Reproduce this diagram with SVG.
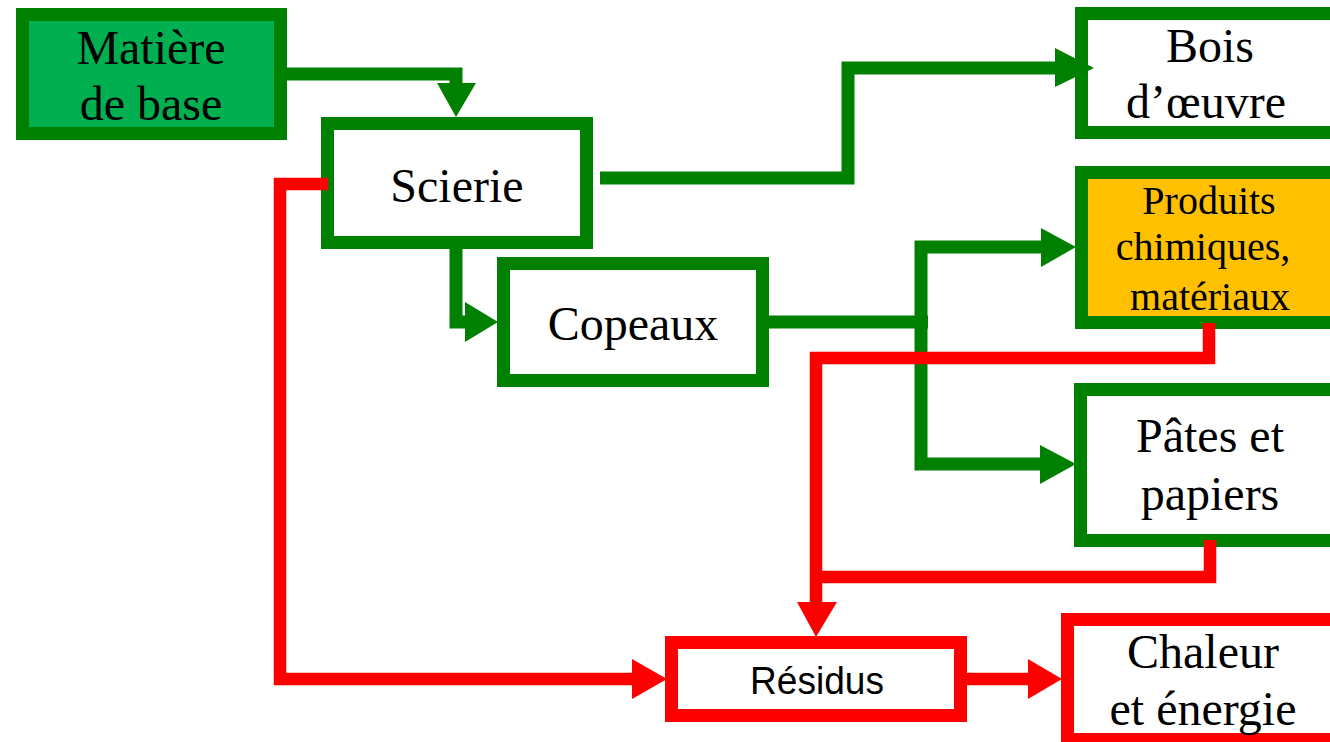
<svg xmlns="http://www.w3.org/2000/svg" width="1330" height="742" viewBox="0 0 1330 742">
<style>
.gbox{fill:#ffffff;stroke:#008000;stroke-width:13}
.rbox{fill:#ffffff;stroke:#ff0000;stroke-width:13}
.t{font-family:"Liberation Serif","Times New Roman",serif;font-size:48px;fill:#000;text-anchor:middle}
.ts{font-family:"Liberation Serif","Times New Roman",serif;font-size:40px;fill:#000;text-anchor:middle}
.sans{font-family:"Liberation Sans",Arial,sans-serif;font-size:39px;fill:#000;text-anchor:middle}
.g{fill:none;stroke:#008000;stroke-width:13;stroke-linejoin:miter}
.r{fill:none;stroke:#ff0000;stroke-width:12.5;stroke-linejoin:miter}
.gh{fill:#008000}
.rh{fill:#ff0000}
</style>
<rect width="1330" height="742" fill="#ffffff"/>
<g id="matiere">
<rect class="gbox" x="22.5" y="14.5" width="258" height="119" style="fill:#00b050"/>
<text class="t" x="151" y="64">Matière</text>
<text class="t" x="151" y="120">de base</text>
</g>
<g id="scierie">
<rect class="gbox" x="327.5" y="123.5" width="259" height="119"/>
<text class="t" x="457" y="202">Scierie</text>
</g>
<g id="copeaux">
<rect class="gbox" x="503.5" y="263.5" width="259" height="117"/>
<text class="t" x="633" y="340">Copeaux</text>
</g>
<g id="bois">
<rect class="gbox" x="1081.5" y="13.5" width="270" height="119"/>
<text class="t" x="1210" y="62">Bois</text>
<text class="t" x="1206" y="118">d’œuvre</text>
</g>
<g id="produits">
<rect class="gbox" x="1081.5" y="172.5" width="270" height="150" style="fill:#ffc000"/>
<text class="ts" x="1209" y="214">Produits</text>
<text class="ts" x="1203" y="260">chimiques,</text>
<text class="ts" x="1210" y="310">matériaux</text>
</g>
<g id="pates">
<rect class="gbox" x="1080.5" y="389.5" width="270" height="151"/>
<text class="t" x="1210" y="452">Pâtes et</text>
<text class="t" x="1210" y="510">papiers</text>
</g>
<g id="residus">
<rect class="rbox" x="671.5" y="642.5" width="289" height="73"/>
<text class="sans" x="817" y="694" textLength="134" lengthAdjust="spacingAndGlyphs">Résidus</text>
</g>
<g id="chaleur">
<rect class="rbox" x="1067.5" y="619.5" width="290" height="120"/>
<text class="t" x="1203" y="668">Chaleur</text>
<text class="t" x="1203" y="725">et énergie</text>
</g>
<g id="connectors">
<path class="g" d="M287,74 H456 V86"/>
<polygon class="gh" points="437,83 476,83 456,117"/>
<path class="g" d="M600,178 H848 V68 H1058"/>
<polygon class="gh" points="1055,48 1055,87 1094,68"/>
<path class="g" d="M456,249 V322 H468"/>
<polygon class="gh" points="465,302 465,342 498,322"/>
<path class="g" d="M769,322 H928"/>
<path class="g" d="M1044,247 H921 V464 H1043"/>
<polygon class="gh" points="1041,228 1041,267 1076,247"/>
<polygon class="gh" points="1040,445 1040,484 1076,464"/>
<path class="r" d="M328,184 H280 V679 H635"/>
<polygon class="rh" points="632,659 632,699 667,679"/>
<path class="r" d="M1209,323 V358 H816 V605"/>
<path class="r" d="M1210,540 V577 H816"/>
<polygon class="rh" points="797,602 837,602 816,637"/>
<path class="r" d="M967,679 H1031"/>
<polygon class="rh" points="1028,659 1028,699 1062,679"/>
</g>
</svg>
